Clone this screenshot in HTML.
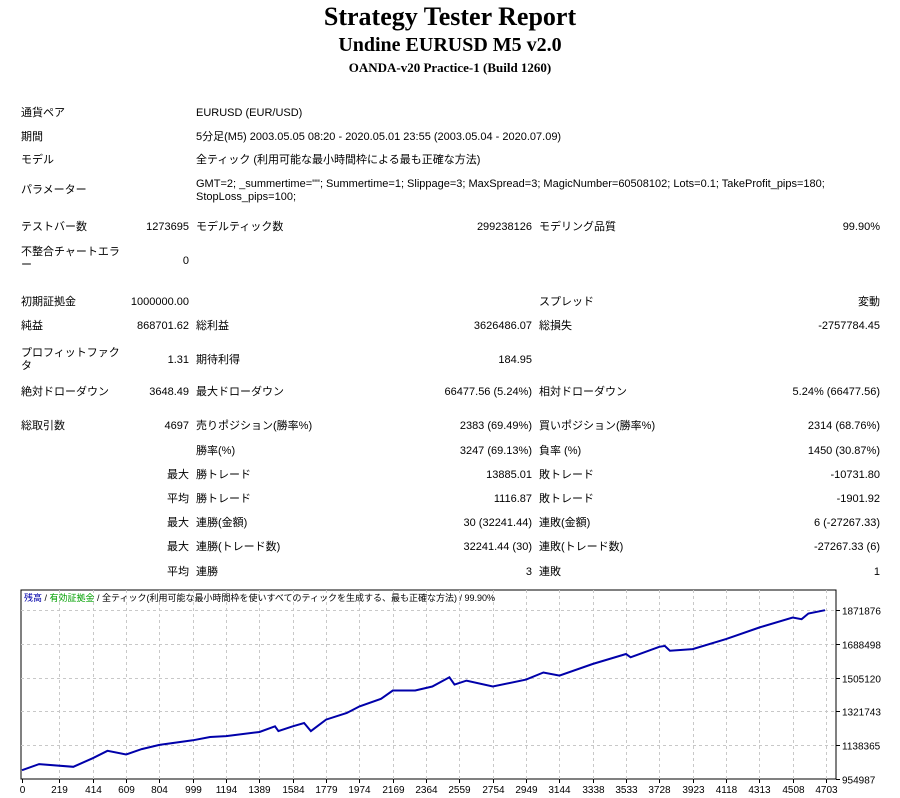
<!DOCTYPE html>
<html><head><meta charset="utf-8">
<style>
body{margin:0;width:900px;height:798px;background:#fff;position:relative;overflow:hidden;font-family:"Liberation Sans","Noto Sans CJK JP",sans-serif;font-size:11px;color:#000}
.t{position:absolute;white-space:nowrap;line-height:13px}
.r{text-align:right}
h1,h2,h3{margin:0;position:absolute;left:0;width:900px;text-align:center;font-family:"Liberation Serif",serif;font-weight:bold}
</style></head><body>
<h1 style="top:2px;font-size:26px">Strategy Tester Report</h1>
<h2 style="top:34px;font-size:20px">Undine EURUSD M5 v2.0</h2>
<h3 style="top:60px;font-size:13px">OANDA-v20 Practice-1 (Build 1260)</h3>
<div id="rows"></div>
<svg id="chart" width="900" height="798" style="position:absolute;left:0;top:0"></svg>
<script>
const NS="http://www.w3.org/2000/svg";
const rows=document.getElementById('rows');
function txt(s,x,y,right,name){
  const d=document.createElement('div');
  d.className='t'+(right?' r':'');
  
  
  d.innerHTML=s;
  if(right){d.style.right=(900-x)+'px';}else{d.style.left=x+'px';}
  d.style.top=(y-6)+'px';
  rows.appendChild(d);
}
// single column info rows
txt('通貨ペア',21,113,false,'label-pair');txt('EURUSD (EUR/USD)',196,113,false,'value-pair');
txt('期間',21,137,false,'label-period');txt('5分足(M5) 2003.05.05 08:20 - 2020.05.01 23:55 (2003.05.04 - 2020.07.09)',196,137,false,'value-period');
txt('モデル',21,160,false,'label-model');txt('全ティック (利用可能な最小時間枠による最も正確な方法)',196,160,false,'value-model');
txt('パラメーター',21,190,false,'label-params');
txt('GMT=2; _summertime=""; Summertime=1; Slippage=3; MaxSpread=3; MagicNumber=60508102; Lots=0.1; TakeProfit_pips=180;<br>StopLoss_pips=100;',196,191,false,'value-params');
rows.lastChild.style.top='178px';
const L1=21,V1=189,L2=196,V2=532,L3=539,V3=880;
const grid=[
 [227,'テストバー数','1273695','モデルティック数','299238126','モデリング品質','99.90%'],
 [302,'初期証拠金','1000000.00','','','スプレッド','変動'],
 [326,'純益','868701.62','総利益','3626486.07','総損失','-2757784.45'],
 [360,'','1.31','期待利得','184.95','',''],
 [392,'絶対ドローダウン','3648.49','最大ドローダウン','66477.56 (5.24%)','相対ドローダウン','5.24% (66477.56)'],
 [426,'総取引数','4697','売りポジション(勝率%)','2383 (69.49%)','買いポジション(勝率%)','2314 (68.76%)'],
 [451,'','','勝率(%)','3247 (69.13%)','負率 (%)','1450 (30.87%)'],
 [475,'','最大','勝トレード','13885.01','敗トレード','-10731.80'],
 [499,'','平均','勝トレード','1116.87','敗トレード','-1901.92'],
 [523,'','最大','連勝(金額)','30 (32241.44)','連敗(金額)','6 (-27267.33)'],
 [547,'','最大','連勝(トレード数)','32241.44 (30)','連敗(トレード数)','-27267.33 (6)'],
 [572,'','平均','連勝','3','連敗','1']
];
grid.forEach((g,i)=>{
 if(g[1])txt(g[1],L1,g[0],false,'label-a-'+i);
 if(g[2])txt(g[2],V1,g[0],true,'value-a-'+i);
 if(g[3])txt(g[3],L2,g[0],false,'label-b-'+i);
 if(g[4])txt(g[4],V2,g[0],true,'value-b-'+i);
 if(g[5])txt(g[5],L3,g[0],false,'label-c-'+i);
 if(g[6])txt(g[6],V3,g[0],true,'value-c-'+i);
});
txt('不整合チャートエラ<br>ー',21,252,false,'label-mismatch');rows.lastChild.style.top='246px';
txt('0',V1,261,true,'value-mismatch');
txt('プロフィットファク<br>タ',21,354,false,'label-profit-factor');rows.lastChild.style.top='347px';

// chart data
const trades=[0,100,300,414,500,609,700,804,999,1100,1194,1389,1480,1500,1584,1650,1690,1779,1900,1974,2100,2169,2300,2400,2500,2530,2600,2754,2949,3050,3144,3338,3533,3560,3728,3760,3790,3923,4118,4313,4508,4560,4600,4697];
const balance=[1003000,1036000,1021000,1068000,1108000,1088000,1117000,1140000,1165000,1183000,1188000,1210000,1241000,1215000,1241000,1259000,1215000,1277000,1313000,1349000,1390000,1435000,1435000,1457000,1507000,1467000,1489000,1457000,1494000,1533000,1516000,1579000,1633000,1615000,1672000,1677000,1651000,1660000,1714000,1777000,1831000,1822000,1853000,1871000];
const yTicks=[954987,1138365,1321743,1505120,1688498,1871876];
const xTicks=[0,219,414,609,804,999,1194,1389,1584,1779,1974,2169,2364,2559,2754,2949,3144,3338,3533,3728,3923,4118,4313,4508,4703];
const PL=21,PR=836,PT=590,PB=779;
const xs=t=>22+t*(804/4703);
const ys=v=>PB-(v-954987)/(1871876-954987)*(PB-610);
const svg=document.getElementById('chart');
function el(tag,attrs,name){const e=document.createElementNS(NS,tag);for(const k in attrs)e.setAttribute(k,attrs[k]);
 
 
 svg.appendChild(e);return e;}
el('rect',{x:PL,y:PT,width:PR-PL,height:PB-PT,fill:'#fff',stroke:'#000','stroke-width':1},'plot-area');
yTicks.forEach((v,i)=>{const y=Math.round(ys(v))+.5;
 if(i>0)el('line',{x1:PL,x2:PR,y1:y,y2:y,stroke:'#c8c8c8','stroke-dasharray':'3,3'},'y-gridline');
 el('line',{x1:PR,x2:PR+4,y1:y,y2:y,stroke:'#000'},'y-tick');
 const t=el('text',{x:PR+6,y:y+4,'font-size':10,'font-family':'Liberation Sans, sans-serif'},'y-tick-label');t.textContent=v;});
xTicks.forEach(v=>{const x=Math.round(xs(v))+.5;
 if(v>0)el('line',{x1:x,x2:x,y1:PT,y2:PB,stroke:'#c8c8c8','stroke-dasharray':'3,3'},'x-gridline');
 el('line',{x1:x,x2:x,y1:PB,y2:PB+4,stroke:'#000'},'x-tick');
 const t=el('text',{x:x,y:PB+14,'font-size':10,'text-anchor':'middle','font-family':'Liberation Sans, sans-serif'},'x-tick-label');t.textContent=v;});
el('polyline',{points:trades.map((t,i)=>xs(t).toFixed(1)+','+ys(balance[i]).toFixed(1)).join(' '),fill:'none',stroke:'#0000aa','stroke-width':2},'balance-line');
const lg=el('text',{x:24,y:601,'font-size':9,'font-family':'Liberation Sans, Noto Sans CJK JP, sans-serif'},'chart-legend');
lg.innerHTML='<tspan fill="#0000aa">残高</tspan> / <tspan fill="#00a000">有効証拠金</tspan> / 全ティック(利用可能な最小時間枠を使いすべてのティックを生成する、最も正確な方法) / 99.90%';
</script>
</body></html>
